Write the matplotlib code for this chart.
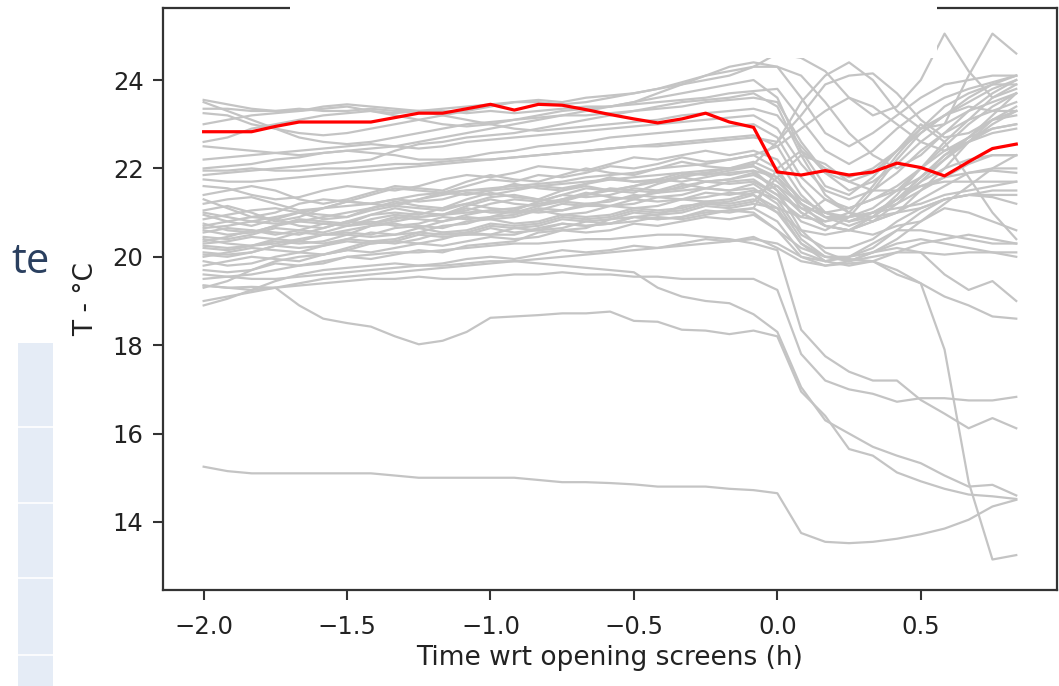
import matplotlib
matplotlib.use("Agg")
import matplotlib.pyplot as plt
from matplotlib.patches import Rectangle
from matplotlib.transforms import Bbox, TransformedBbox

# time with respect to opening of the screens (h), 5-minute steps
time_h = [-2.0, -1.917, -1.833, -1.75, -1.667, -1.583, -1.5, -1.417, -1.333, -1.25,
          -1.167, -1.083, -1.0, -0.917, -0.833, -0.75, -0.667, -0.583, -0.5, -0.417,
          -0.333, -0.25, -0.167, -0.083, 0.0, 0.083, 0.167, 0.25, 0.333, 0.417,
          0.5, 0.583, 0.667, 0.75, 0.833]

# highlighted series (red)
highlight = [22.83, 22.83, 22.83, 22.95, 23.05, 23.05, 23.05, 23.05, 23.15, 23.25,
             23.25, 23.35, 23.45, 23.32, 23.45, 23.43, 23.33, 23.22, 23.12, 23.03,
             23.12, 23.25, 23.05, 22.93, 21.92, 21.85, 21.95, 21.85, 21.92, 22.12,
             22.02, 21.83, 22.15, 22.45, 22.55]

# other series (grey)
g01 = [23.55, 23.45, 23.35, 23.3, 23.3, 23.35, 23.4, 23.3, 23.25, 23.3, 23.35, 23.4,
       23.45, 23.5, 23.55, 23.5, 23.6, 23.65, 23.7, 23.8, 23.9, 24.0, 24.1, 24.3,
       24.6, 24.5, 24.2, 23.6, 23.2, 23.4, 24.0, 25.05, 24.2, 23.6, 23.8]
g02 = [23.35, 23.35, 23.3, 23.3, 23.35, 23.3, 23.3, 23.35, 23.3, 23.3, 23.3, 23.25,
       23.3, 23.25, 23.3, 23.35, 23.4, 23.4, 23.45, 23.5, 23.55, 23.6, 23.7, 23.75,
       23.8, 23.1, 22.4, 22.1, 22.4, 22.9, 23.3, 23.6, 23.8, 23.95, 24.1]
g03 = [23.25, 23.2, 23.0, 22.9, 22.8, 22.75, 22.8, 22.9, 23.0, 23.1, 23.2, 23.3,
       23.4, 23.5, 23.5, 23.45, 23.5, 23.6, 23.7, 23.8, 23.95, 24.1, 24.2, 24.3,
       24.3, 24.1, 23.5, 22.8, 22.3, 22.0, 22.3, 22.8, 23.3, 23.7, 24.0]
g04 = [23.5, 23.3, 23.1, 22.9, 22.7, 22.6, 22.55, 22.6, 22.7, 22.8, 22.9, 23.0,
       23.05, 23.1, 23.15, 23.2, 23.2, 23.25, 23.3, 23.35, 23.4, 23.5, 23.55, 23.6,
       23.5, 22.6, 21.9, 21.5, 21.7, 22.1, 22.6, 23.0, 23.3, 23.5, 23.7]
g05 = [23.0, 23.1, 23.2, 23.25, 23.3, 23.4, 23.45, 23.4, 23.35, 23.3, 23.2, 23.1,
       23.0, 22.9, 22.85, 22.9, 22.95, 23.0, 23.05, 23.1, 23.2, 23.25, 23.3, 23.35,
       23.2, 22.5, 21.9, 21.7, 21.9, 22.4, 23.0, 22.6, 21.8, 21.0, 20.4]
g06 = [22.6, 22.7, 22.9, 23.0, 23.1, 23.2, 23.25, 23.3, 23.2, 23.1, 23.0, 22.95,
       23.0, 23.1, 23.2, 23.3, 23.35, 23.4, 23.5, 23.6, 23.7, 23.8, 23.9, 24.0,
       23.6, 22.4, 21.6, 21.4, 21.8, 22.4, 22.9, 23.0, 24.1, 25.05, 24.6]
g07 = [22.2, 22.25, 22.3, 22.35, 22.4, 22.45, 22.5, 22.55, 22.5, 22.45, 22.5, 22.6,
       22.65, 22.7, 22.75, 22.8, 22.85, 22.9, 22.95, 23.0, 23.05, 23.1, 23.15, 23.2,
       22.9, 22.1, 21.5, 21.3, 21.5, 21.9, 22.4, 22.8, 23.1, 23.3, 23.5]
g08 = [22.0, 22.05, 22.1, 22.2, 22.25, 22.35, 22.4, 22.35, 22.3, 22.2, 22.2, 22.25,
       22.35, 22.4, 22.5, 22.55, 22.6, 22.7, 22.75, 22.8, 22.85, 22.9, 22.95, 23.0,
       22.7, 21.8, 21.3, 21.1, 21.3, 21.6, 22.0, 22.4, 22.7, 22.9, 23.0]
g09 = [21.95, 21.95, 22.0, 21.95, 21.95, 22.0, 22.0, 22.05, 22.1, 22.1, 22.15, 22.2,
       22.2, 22.25, 22.3, 22.35, 22.4, 22.45, 22.5, 22.55, 22.6, 22.65, 22.7, 22.75,
       22.5, 21.6, 21.0, 20.8, 21.0, 21.3, 21.7, 22.0, 22.2, 22.3, 22.3]
g10 = [21.85, 21.9, 21.95, 22.0, 22.05, 22.1, 22.15, 22.2, 22.4, 22.55, 22.6, 22.7,
       22.75, 22.8, 22.9, 23.0, 23.1, 23.2, 23.3, 23.4, 23.5, 23.55, 23.6, 23.7,
       23.4, 22.3, 21.4, 21.0, 20.9, 21.3, 21.8, 22.3, 22.6, 22.8, 22.9]
g11 = [21.6, 21.55, 21.4, 21.3, 21.35, 21.5, 21.6, 21.55, 21.5, 21.6, 21.75, 21.85,
       21.8, 21.9, 22.05, 22.0, 21.95, 22.1, 22.25, 22.2, 22.3, 22.4, 22.3, 22.4,
       22.2, 21.4, 20.9, 20.7, 20.9, 21.3, 21.8, 22.3, 22.7, 23.1, 23.4]
g12 = [21.4, 21.5, 21.6, 21.5, 21.3, 21.2, 21.3, 21.45, 21.6, 21.55, 21.5, 21.7,
       21.85, 21.75, 21.7, 21.85, 22.0, 21.9, 21.85, 22.0, 22.15, 22.05, 22.0, 22.15,
       21.9, 21.3, 21.0, 20.9, 21.0, 21.2, 21.5, 21.8, 22.1, 22.3, 22.3]
g13 = [21.3, 21.1, 20.9, 21.0, 21.2, 21.3, 21.25, 21.4, 21.55, 21.5, 21.45, 21.6,
       21.75, 21.7, 21.85, 21.8, 21.9, 22.05, 22.0, 22.1, 22.25, 22.15, 22.2, 22.3,
       22.0, 21.2, 20.7, 20.6, 20.9, 21.4, 22.0, 22.6, 23.1, 23.6, 23.9]
g14 = [21.2, 21.3, 21.35, 21.2, 21.05, 21.1, 21.25, 21.2, 21.15, 21.3, 21.45, 21.4,
       21.5, 21.65, 21.55, 21.5, 21.65, 21.8, 21.7, 21.75, 21.9, 21.85, 21.95, 22.05,
       21.7, 21.2, 20.9, 20.8, 20.9, 21.0, 21.1, 21.3, 21.4, 21.5, 21.5]
g15 = [21.05, 21.15, 21.0, 20.8, 20.9, 21.1, 21.25, 21.2, 21.3, 21.25, 21.3, 21.45,
       21.4, 21.5, 21.6, 21.55, 21.65, 21.75, 21.7, 21.7, 21.85, 21.9, 21.85, 21.95,
       21.8, 21.3, 21.0, 20.8, 21.0, 21.3, 21.6, 21.8, 21.9, 21.95, 21.9]
g16 = [20.95, 20.8, 20.7, 20.85, 21.0, 20.95, 20.9, 21.1, 21.25, 21.15, 21.1, 21.3,
       21.45, 21.35, 21.3, 21.5, 21.6, 21.5, 21.45, 21.65, 21.8, 21.7, 21.75, 21.9,
       21.5, 20.6, 20.1, 19.9, 20.1, 20.4, 20.8, 21.2, 21.6, 22.0, 22.3]
g17 = [20.85, 20.95, 21.05, 21.1, 21.0, 20.85, 20.9, 21.05, 21.15, 21.1, 21.05, 21.2,
       21.35, 21.4, 21.3, 21.25, 21.4, 21.55, 21.5, 21.45, 21.6, 21.7, 21.65, 21.7,
       21.4, 21.1, 21.0, 21.1, 21.3, 21.5, 21.8, 22.2, 22.6, 23.0, 23.3]
g18 = [20.75, 20.6, 20.55, 20.7, 20.85, 20.8, 20.75, 20.95, 21.1, 21.0, 20.95, 21.15,
       21.3, 21.2, 21.15, 21.3, 21.45, 21.35, 21.3, 21.5, 21.65, 21.55, 21.5, 21.65,
       21.3, 20.5, 20.2, 20.2, 20.4, 20.8, 21.1, 21.3, 21.4, 21.35, 21.2]
g19 = [20.7, 20.8, 20.9, 20.85, 20.7, 20.65, 20.8, 20.95, 21.0, 20.95, 21.1, 21.2,
       21.1, 21.05, 21.25, 21.4, 21.35, 21.4, 21.55, 21.5, 21.55, 21.7, 21.75, 21.85,
       21.6, 21.0, 20.7, 20.6, 20.8, 21.2, 21.7, 22.2, 22.7, 23.2, 23.7]
g20 = [20.6, 20.5, 20.55, 20.7, 20.8, 20.75, 20.7, 20.85, 20.95, 20.9, 20.95, 21.1,
       21.0, 21.0, 21.15, 21.25, 21.2, 21.25, 21.4, 21.35, 21.4, 21.55, 21.5, 21.55,
       21.2, 20.4, 20.0, 19.9, 20.0, 20.1, 20.1, 20.05, 20.1, 20.1, 20.1]
g21 = [20.55, 20.65, 20.6, 20.5, 20.6, 20.75, 20.7, 20.75, 20.9, 20.85, 20.8, 20.95,
       21.05, 21.0, 21.05, 21.2, 21.15, 21.15, 21.3, 21.25, 21.3, 21.45, 21.4, 21.5,
       21.3, 20.9, 20.8, 20.9, 21.0, 21.1, 21.2, 21.4, 21.5, 21.6, 21.7]
g22 = [20.45, 20.4, 20.5, 20.65, 20.6, 20.55, 20.7, 20.8, 20.7, 20.75, 20.9, 20.85,
       20.9, 21.05, 21.0, 21.05, 21.2, 21.15, 21.2, 21.35, 21.3, 21.35, 21.45, 21.4,
       21.1, 20.3, 19.9, 19.8, 19.9, 20.1, 20.3, 20.4, 20.5, 20.4, 20.3]
g23 = [20.4, 20.3, 20.25, 20.4, 20.55, 20.5, 20.5, 20.7, 20.75, 20.65, 20.8, 20.9,
       20.85, 20.9, 21.05, 20.95, 21.0, 21.15, 21.1, 21.15, 21.3, 21.25, 21.3, 21.45,
       21.6, 21.2, 20.9, 20.9, 21.1, 21.5, 22.0, 22.5, 23.0, 23.4, 23.7]
g24 = [20.3, 20.35, 20.45, 20.4, 20.35, 20.5, 20.55, 20.5, 20.65, 20.7, 20.65, 20.8,
       20.85, 20.75, 20.8, 20.95, 20.9, 20.95, 21.1, 21.05, 21.1, 21.25, 21.2, 21.3,
       21.0, 20.6, 20.5, 20.6, 20.8, 21.0, 21.3, 21.6, 21.9, 22.0, 22.0]
g25 = [20.2, 20.15, 20.25, 20.35, 20.3, 20.35, 20.5, 20.45, 20.5, 20.65, 20.55, 20.6,
       20.75, 20.7, 20.75, 20.9, 20.85, 20.9, 21.05, 21.0, 21.05, 21.2, 21.15, 21.25,
       21.8, 22.3, 22.1, 21.7, 21.5, 21.5, 21.6, 21.7, 21.7, 21.7, 21.7]
g26 = [20.1, 20.05, 20.1, 20.25, 20.2, 20.25, 20.4, 20.35, 20.4, 20.55, 20.5, 20.55,
       20.7, 20.65, 20.7, 20.85, 20.8, 20.85, 21.0, 20.95, 21.0, 21.15, 21.1, 21.2,
       21.1, 20.9, 21.3, 21.0, 20.8, 21.0, 21.5, 22.0, 22.6, 23.1, 23.2]
g27 = [20.0, 20.1, 20.2, 20.15, 20.1, 20.25, 20.35, 20.3, 20.35, 20.5, 20.45, 20.5,
       20.65, 20.55, 20.6, 20.75, 20.7, 20.75, 20.9, 20.85, 20.9, 21.05, 21.0, 21.1,
       20.8, 20.1, 19.9, 20.0, 20.2, 20.6, 21.0, 21.3, 21.4, 21.4, 21.4]
g28 = [19.9, 19.8, 19.85, 20.0, 20.1, 20.05, 20.2, 20.35, 20.3, 20.4, 20.55, 20.5,
       20.5, 20.65, 20.6, 20.65, 20.8, 20.75, 20.8, 20.9, 20.85, 20.95, 21.05, 21.1,
       22.0, 22.4, 22.0, 21.8, 22.0, 22.4, 22.8, 23.2, 23.5, 23.8, 24.0]
g29 = [19.8, 19.9, 20.0, 19.95, 19.9, 20.05, 20.15, 20.1, 20.2, 20.3, 20.25, 20.35,
       20.45, 20.4, 20.45, 20.6, 20.55, 20.6, 20.75, 20.7, 20.8, 20.9, 20.85, 20.95,
       20.6, 20.0, 19.8, 19.9, 20.1, 20.3, 20.4, 20.3, 20.2, 20.1, 20.0]
g30 = [19.7, 19.65, 19.7, 19.85, 19.8, 19.85, 20.0, 19.95, 20.05, 20.15, 20.1, 20.25,
       20.3, 20.35, 20.55, 20.6, 20.65, 20.85, 20.9, 20.95, 21.15, 21.2, 21.25, 21.4,
       21.0, 20.3, 20.0, 20.0, 20.3, 20.6, 20.6, 20.5, 20.4, 20.3, 20.3]
g31 = [19.0, 19.1, 19.2, 19.3, 19.35, 19.4, 19.45, 19.5, 19.5, 19.55, 19.5, 19.5,
       19.55, 19.6, 19.6, 19.65, 19.6, 19.6, 19.55, 19.55, 19.5, 19.5, 19.5, 19.5,
       19.25, 17.8, 17.2, 17.0, 16.9, 16.72, 16.8, 16.8, 16.75, 16.75, 16.83]
g32 = [19.6, 19.55, 19.5, 19.5, 19.55, 19.6, 19.65, 19.7, 19.75, 19.8, 19.8, 19.85,
       19.9, 19.9, 19.85, 19.8, 19.75, 19.7, 19.65, 19.3, 19.1, 19.0, 18.95, 18.7,
       18.3, 17.05, 16.3, 16.0, 15.7, 15.5, 15.33, 15.05, 14.8, 14.84, 14.6]
g33 = [19.5, 19.55, 19.6, 19.7, 19.8, 19.9, 20.0, 20.05, 20.1, 20.1, 20.15, 20.2,
       20.25, 20.3, 20.3, 20.35, 20.4, 20.4, 20.45, 20.5, 20.5, 20.45, 20.4, 20.3,
       20.15, 18.35, 17.75, 17.4, 17.2, 17.2, 16.76, 16.45, 16.12, 16.35, 16.12]
g34 = [19.3, 19.45, 19.7, 19.9, 20.0, 20.05, 20.15, 20.3, 20.35, 20.3, 20.4, 20.55,
       20.5, 20.5, 20.65, 20.75, 20.7, 20.75, 20.9, 20.85, 20.9, 21.0, 21.05, 21.0,
       20.6, 20.2, 20.0, 19.95, 19.9, 19.6, 19.4, 17.9, 14.9, 13.15, 13.25]
g35 = [18.9, 19.05, 19.25, 19.45, 19.6, 19.7, 19.75, 19.8, 19.85, 19.8, 19.85, 19.95,
       20.0, 19.95, 20.05, 20.15, 20.1, 20.15, 20.25, 20.2, 20.3, 20.4, 20.35, 20.45,
       20.2, 19.9, 19.8, 19.85, 19.9, 19.7, 19.4, 19.1, 18.9, 18.65, 18.6]
g36 = [19.35, 19.3, 19.25, 19.3, 19.4, 19.5, 19.55, 19.6, 19.65, 19.7, 19.75, 19.8,
       19.85, 19.9, 19.95, 20.0, 20.05, 20.1, 20.15, 20.2, 20.25, 20.3, 20.35, 20.4,
       20.3, 20.0, 19.9, 20.0, 20.1, 20.2, 20.1, 19.6, 19.25, 19.45, 19.0]
g37 = [19.35, 19.3, 19.32, 19.3, 18.9, 18.6, 18.5, 18.42, 18.2, 18.02, 18.1, 18.3,
       18.62, 18.65, 18.68, 18.72, 18.72, 18.76, 18.55, 18.53, 18.35, 18.33, 18.25, 18.33,
       18.2, 16.95, 16.4, 15.65, 15.5, 15.12, 14.92, 14.75, 14.62, 14.58, 14.52]
g38 = [15.25, 15.15, 15.1, 15.1, 15.1, 15.1, 15.1, 15.1, 15.05, 15.0, 15.0, 15.0,
       15.0, 15.0, 14.95, 14.9, 14.9, 14.88, 14.85, 14.8, 14.8, 14.8, 14.75, 14.72,
       14.65, 13.75, 13.55, 13.52, 13.55, 13.62, 13.72, 13.85, 14.05, 14.35, 14.5]
g39 = [21.0, 20.9, 20.8, 20.75, 20.8, 20.9, 21.0, 21.1, 21.2, 21.3, 21.4, 21.5,
       21.55, 21.6, 21.65, 21.7, 21.8, 21.85, 21.9, 22.0, 22.05, 22.1, 22.2, 22.3,
       22.5, 22.9, 23.3, 23.6, 23.4, 23.0, 22.6, 22.4, 22.6, 22.9, 23.0]
g40 = [20.65, 20.7, 20.8, 20.9, 21.0, 21.1, 21.15, 21.2, 21.3, 21.4, 21.45, 21.5,
       21.5, 21.55, 21.6, 21.65, 21.7, 21.75, 21.8, 21.85, 21.9, 21.95, 22.0, 22.05,
       21.8, 21.1, 20.8, 21.0, 21.6, 22.3, 22.9, 23.4, 23.7, 23.9, 24.1]
g41 = [20.35, 20.45, 20.6, 20.55, 20.5, 20.65, 20.8, 20.75, 20.85, 21.0, 20.95, 21.05,
       21.2, 21.3, 21.25, 21.4, 21.55, 21.5, 21.6, 21.75, 21.7, 21.8, 21.9, 21.95,
       21.5, 21.0, 20.7, 20.6, 20.5, 20.7, 20.8, 21.1, 21.0, 20.8, 20.6]
g42 = [20.25, 20.2, 20.25, 20.3, 20.4, 20.5, 20.6, 20.7, 20.8, 20.9, 20.95, 21.0,
       21.05, 21.1, 21.2, 21.3, 21.4, 21.5, 21.6, 21.7, 21.8, 21.9, 22.0, 22.1,
       22.6, 23.5, 24.1, 24.4, 24.0, 23.3, 22.9, 23.2, 23.6, 23.9, 23.9]
g43 = [20.05, 20.0, 20.1, 20.25, 20.35, 20.3, 20.4, 20.55, 20.5, 20.55, 20.7, 20.75,
       20.9, 20.95, 21.1, 21.05, 21.15, 21.3, 21.35, 21.45, 21.5, 21.55, 21.7, 21.75,
       21.4, 20.8, 20.6, 20.9, 21.5, 22.2, 22.8, 23.2, 23.4, 23.3, 23.3]
g44 = [22.5, 22.45, 22.4, 22.35, 22.3, 22.35, 22.4, 22.45, 22.5, 22.6, 22.7, 22.8,
       22.9, 23.0, 23.1, 23.2, 23.3, 23.4, 23.5, 23.7, 23.9, 24.1, 24.3, 24.4,
       24.3, 23.6, 22.8, 22.5, 22.8, 23.2, 23.6, 23.9, 24.0, 24.1, 24.1]
g45 = [21.75, 21.7, 21.7, 21.75, 21.8, 21.85, 21.9, 21.95, 22.0, 22.05, 22.1, 22.15,
       22.2, 22.25, 22.3, 22.35, 22.4, 22.45, 22.5, 22.5, 22.55, 22.6, 22.65, 22.7,
       22.6, 23.2, 23.9, 24.1, 24.15, 23.7, 23.1, 22.7, 22.8, 23.1, 23.3]

grey_series = [g01, g02, g03, g04, g05, g06, g07, g08, g09, g10, g11, g12, g13, g14, g15,
               g16, g17, g18, g19, g20, g21, g22, g23, g24, g25, g26, g27, g28, g29, g30,
               g31, g32, g33, g34, g35, g36, g37, g38, g39, g40, g41, g42, g43, g44, g45]

xticks = [-2.0, -1.5, -1.0, -0.5, 0.0, 0.5]
yticks = [14, 16, 18, 20, 22, 24]

W, H = 1059, 686
fig = plt.figure(figsize=(W / 100, H / 100), dpi=100)
fig.patch.set_facecolor("white")

# stray pieces of the surrounding page (screenshot context)
panel = Rectangle((18 / W, 0), 35 / W, (H - 343) / H, transform=fig.transFigure,
                  facecolor="#e5ecf6", edgecolor="none", zorder=0)
fig.patches.append(panel)
for yy in [427, 503, 578, 655]:
    fig.add_artist(plt.Line2D([18 / W, 53 / W], [1 - yy / H, 1 - yy / H],
                              transform=fig.transFigure, color="white", lw=1.2))
te = fig.text(11 / W, 1 - 262 / H, "te", fontsize=30, color="#2a3f5f",
              family=["Open Sans", "DejaVu Sans"], va="center", ha="left")
te.set_clip_box(TransformedBbox(Bbox([[0, 0], [53 / W, 1]]), fig.transFigure))
te.set_clip_on(True)

ax = fig.add_axes([163 / W, 1 - 590 / H, (1057 - 163) / W, (590 - 8) / H])

for s in grey_series:
    assert len(s) == len(time_h)
    ax.plot(time_h, s, color="#c4c4c4", lw=1.6, zorder=2)
ax.plot(time_h, highlight, color="#ff0000", lw=2.3, zorder=3)

ax.set_xlim(-2.1417, 0.975)
ax.set_ylim(12.46, 25.63)
ax.set_xticks(xticks)
ax.set_yticks(yticks)
ax.tick_params(labelsize=17.5, length=7, width=1.5, color="#333333", labelcolor="#222222")
ax.tick_params(axis="x", pad=11)
ax.tick_params(axis="y", pad=7)
for sp in ax.spines.values():
    sp.set_linewidth(1.6)
    sp.set_color("#333333")
ax.set_xlabel("Time wrt opening screens (h)", fontsize=19, color="#222222", labelpad=4)
ax.set_ylabel("T - °C", fontsize=19, color="#222222", labelpad=10)

# white patch hiding part of the top of the screenshot
cover = Rectangle((290 / W, 1 - 58 / H), (937 - 290) / W, 58 / H + 0.01,
                  transform=fig.transFigure, facecolor="white", edgecolor="none",
                  zorder=10)
fig.add_artist(cover)

fig.savefig("out.png", dpi=100)
